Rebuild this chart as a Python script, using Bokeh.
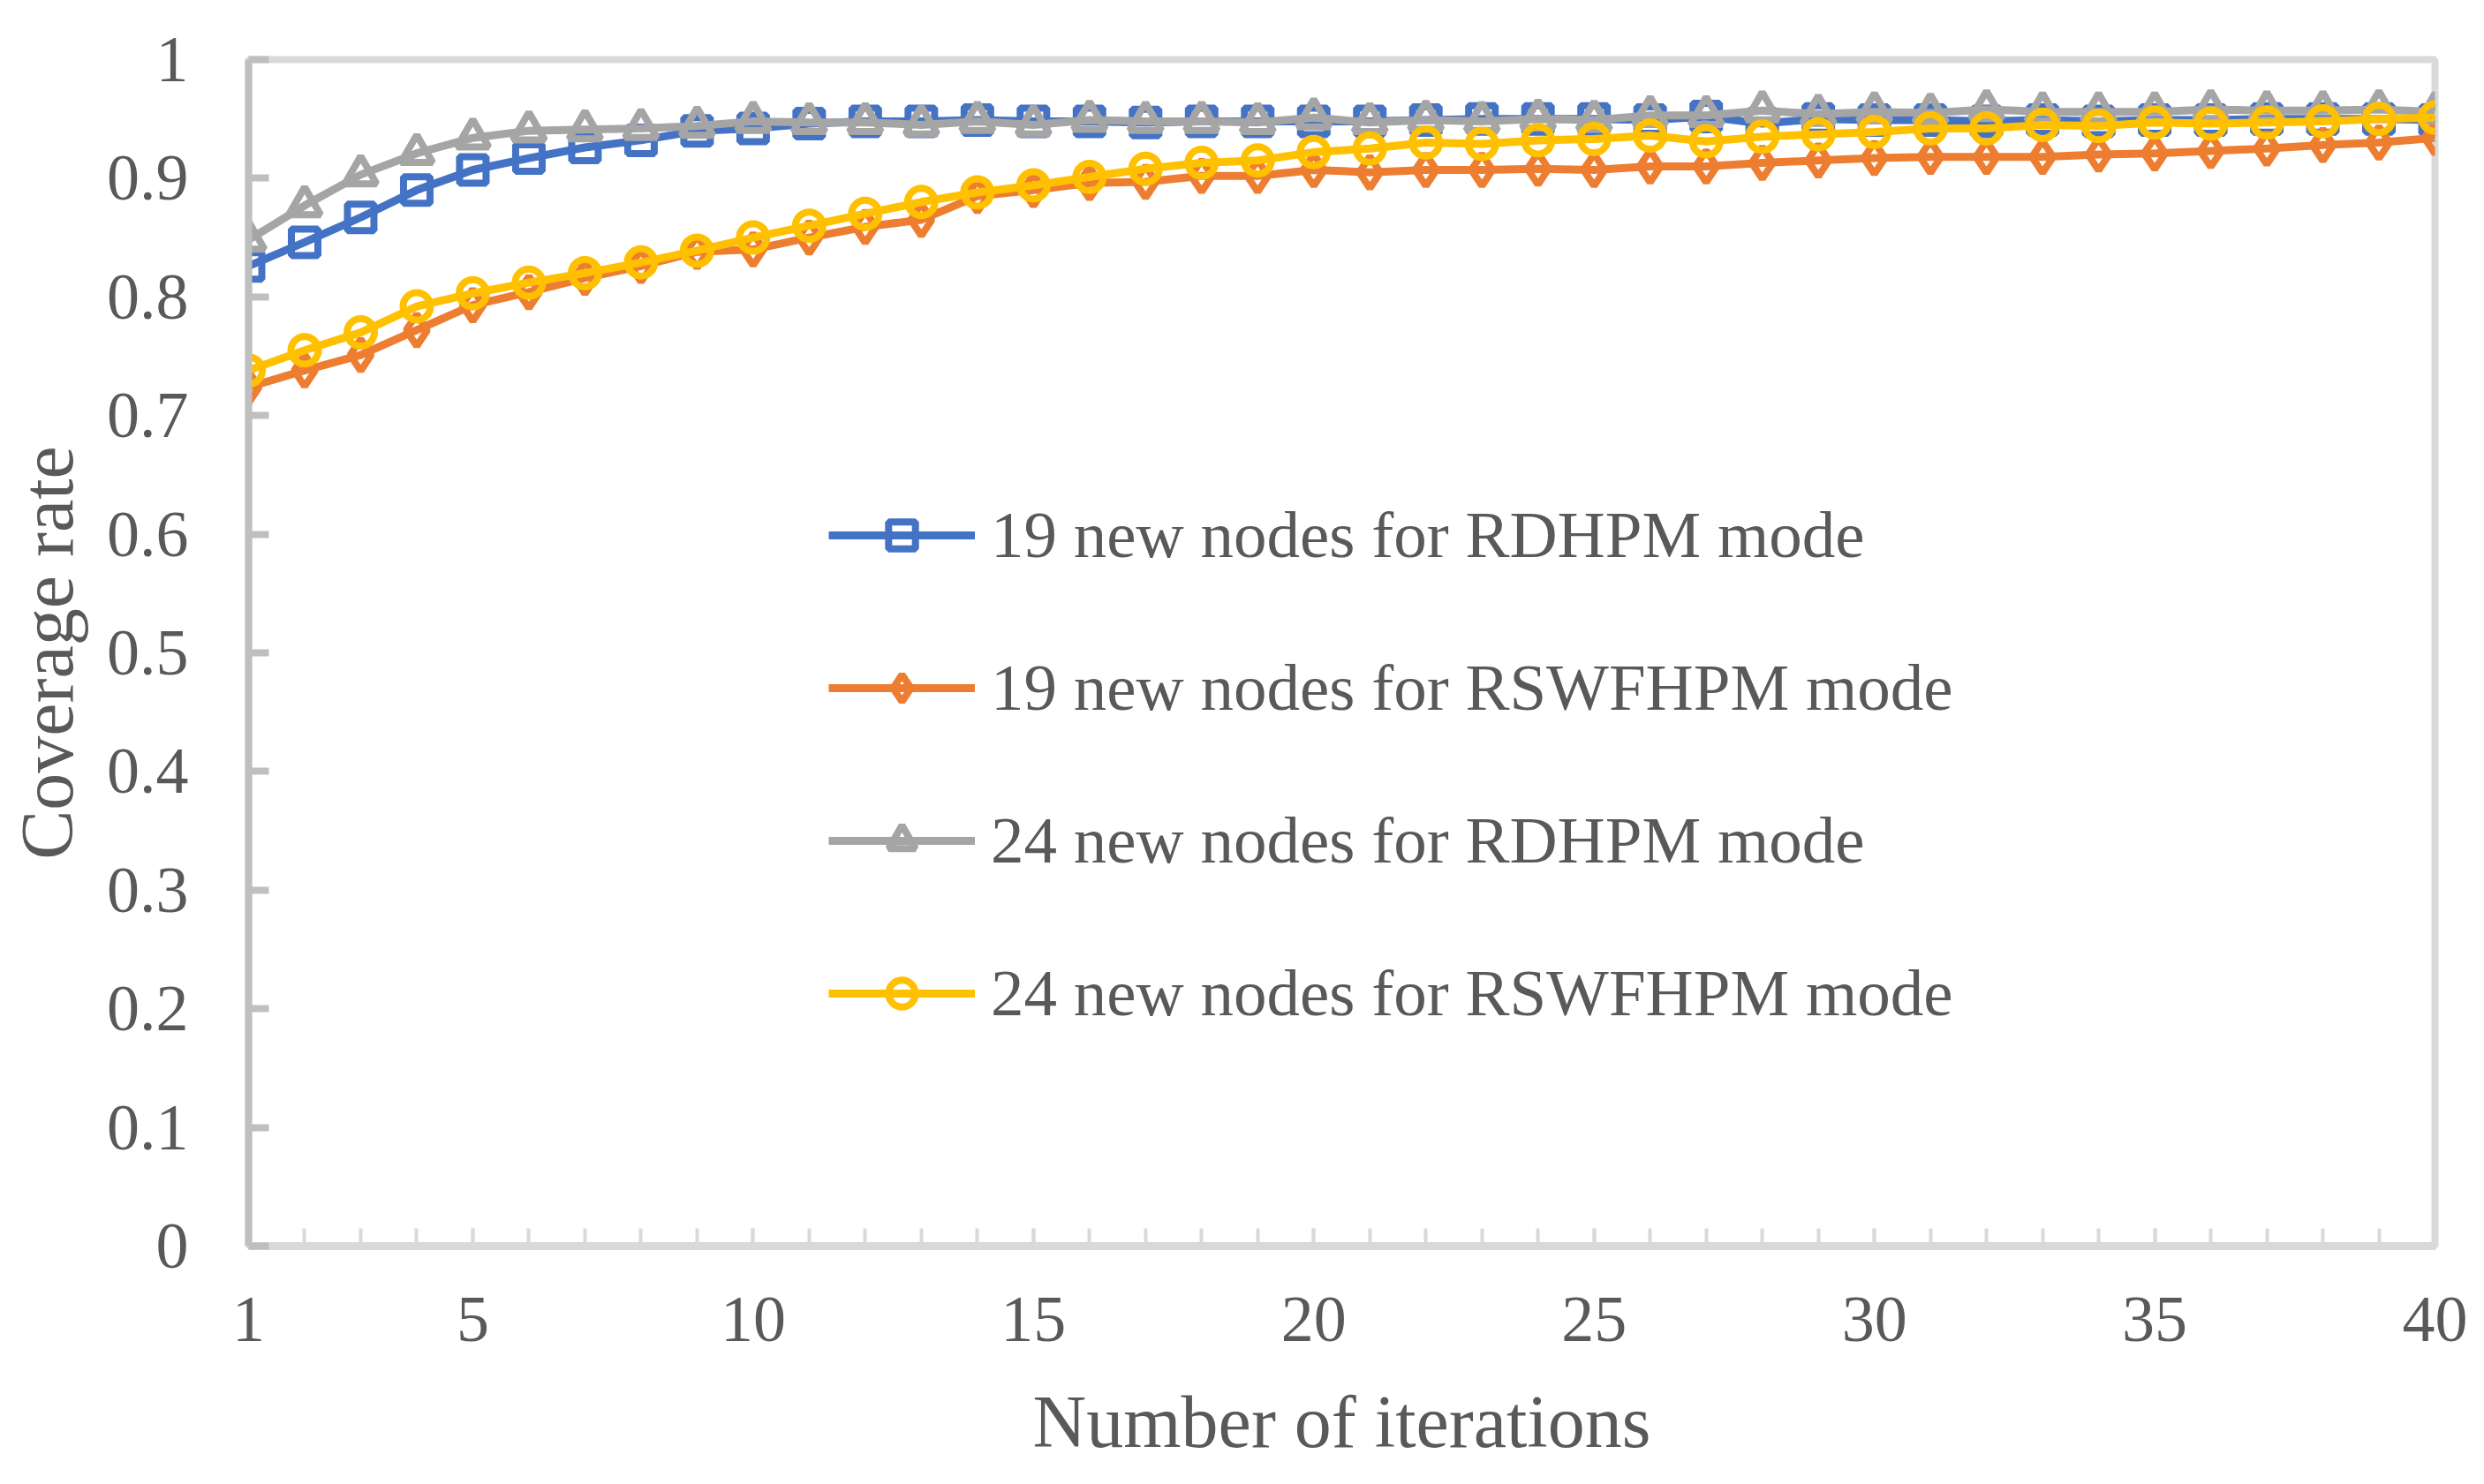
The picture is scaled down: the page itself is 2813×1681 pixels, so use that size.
from bokeh.plotting import figure
from bokeh.models import (Range1d, FixedTicker, CustomJSTickFormatter, Legend, LegendItem)
from bokeh.embed import file_html
from bokeh.resources import INLINE

iterations = list(range(1, 41))

rdhpm_19 = [0.826, 0.846, 0.867, 0.890, 0.907, 0.917, 0.926, 0.932, 0.940, 0.942,
            0.946, 0.948, 0.948, 0.949, 0.948, 0.948, 0.947, 0.948, 0.948, 0.948,
            0.948, 0.949, 0.950, 0.950, 0.950, 0.949, 0.952, 0.946, 0.950, 0.949,
            0.949, 0.948, 0.949, 0.948, 0.949, 0.949, 0.950, 0.950, 0.950, 0.949]

rswfhpm_19 = [0.724, 0.738, 0.751, 0.772, 0.793, 0.804, 0.816, 0.826, 0.838, 0.840,
              0.850, 0.859, 0.865, 0.885, 0.890, 0.896, 0.897, 0.902, 0.902, 0.907,
              0.905, 0.907, 0.907, 0.908, 0.907, 0.910, 0.910, 0.913, 0.915, 0.917,
              0.918, 0.918, 0.918, 0.920, 0.921, 0.923, 0.925, 0.928, 0.930, 0.934]

rdhpm_24 = [0.848, 0.877, 0.903, 0.921, 0.934, 0.940, 0.941, 0.942, 0.944, 0.948,
            0.947, 0.947, 0.945, 0.948, 0.945, 0.949, 0.948, 0.948, 0.947, 0.951,
            0.947, 0.949, 0.948, 0.950, 0.949, 0.953, 0.953, 0.957, 0.954, 0.956,
            0.955, 0.958, 0.956, 0.956, 0.956, 0.958, 0.957, 0.957, 0.958, 0.956]

rswfhpm_24 = [0.738, 0.755, 0.770, 0.792, 0.803, 0.812, 0.820, 0.829, 0.839, 0.850,
              0.860, 0.870, 0.880, 0.888, 0.894, 0.901, 0.908, 0.913, 0.915, 0.922,
              0.925, 0.930, 0.929, 0.932, 0.933, 0.936, 0.931, 0.935, 0.937, 0.939,
              0.942, 0.942, 0.945, 0.944, 0.947, 0.946, 0.947, 0.948, 0.950, 0.951]

series_labels = ["19 new nodes for RDHPM mode",
                 "19 new nodes for RSWFHPM mode",
                 "24 new nodes for RDHPM mode",
                 "24 new nodes for RSWFHPM mode"]

x_tick_labels = [1, 5, 10, 15, 20, 25, 30, 35, 40]
y_ticks = [0, 0.1, 0.2, 0.3, 0.4, 0.5, 0.6, 0.7, 0.8, 0.9, 1]

FONT = "Liberation Serif"
TXT = "#595959"

p = figure(width=2797, height=1665, x_range=Range1d(1, 40), y_range=Range1d(0, 1),
           output_backend="svg", toolbar_location=None,
           min_border_left=281, min_border_right=40, min_border_top=67, min_border_bottom=254)

p.xgrid.visible = False
p.ygrid.visible = False
p.background_fill_color = "white"
p.border_fill_color = "white"
p.outline_line_color = "#d9d9d9"
p.outline_line_width = 8

# x axis
xa = p.xaxis[0]
xa.ticker = FixedTicker(ticks=x_tick_labels, minor_ticks=iterations)
xa.axis_line_color = "#d9d9d9"
xa.axis_line_width = 9
xa.major_tick_in = 20
xa.major_tick_out = 0
xa.minor_tick_in = 20
xa.minor_tick_out = 0
xa.major_tick_line_color = "#d9d9d9"
xa.minor_tick_line_color = "#d9d9d9"
xa.major_tick_line_width = 4
xa.minor_tick_line_width = 4
xa.major_label_text_font = FONT
xa.major_label_text_font_size = "74px"
xa.major_label_text_color = TXT
xa.major_label_standoff = 58
xa.axis_label = "Number of iterations"
xa.axis_label_text_font = FONT
xa.axis_label_text_font_size = "84px"
xa.axis_label_text_font_style = "normal"
xa.axis_label_text_color = TXT
xa.axis_label_standoff = 42

# y axis
ya = p.yaxis[0]
ya.ticker = FixedTicker(ticks=y_ticks, minor_ticks=[])
ya.formatter = CustomJSTickFormatter(code="return (Math.round(tick*10)/10).toString();")
ya.axis_line_color = "#bfbfbf"
ya.axis_line_width = 8
ya.major_tick_in = 23
ya.major_tick_out = 0
ya.minor_tick_in = 0
ya.minor_tick_out = 0
ya.major_tick_line_color = "#bfbfbf"
ya.major_tick_line_width = 8
ya.major_label_text_font = FONT
ya.major_label_text_font_size = "74px"
ya.major_label_text_color = TXT
ya.major_label_standoff = 68
ya.axis_label = "Coverage rate"
ya.axis_label_text_font = FONT
ya.axis_label_text_font_size = "84px"
ya.axis_label_text_font_style = "normal"
ya.axis_label_text_color = TXT
ya.axis_label_standoff = 18

colors = ["#4472C4", "#ED7D31", "#A5A5A5", "#FFC000"]
data = [rdhpm_19, rswfhpm_19, rdhpm_24, rswfhpm_24]
markers = [("square", 30), ("diamond", 36), ("triangle", 36), ("circle", 31)]

items = []
for vals, col, (mk, sz), lab in zip(data, colors, markers, series_labels):
    lr = p.line(iterations, vals, line_color=col, line_width=9)
    sr = p.scatter(iterations, vals, marker=mk, size=sz,
                   line_color=col, line_width=8, fill_color=None)
    items.append(LegendItem(label=lab, renderers=[lr, sr]))

legend = Legend(items=items, location=(657, 243), orientation="vertical",
                glyph_width=166, glyph_height=76, label_height=65,
                spacing=87, label_standoff=18, padding=0, margin=0,
                border_line_color=None, background_fill_alpha=0,
                label_text_font=FONT, label_text_font_size="75px",
                label_text_color=TXT)
p.add_layout(legend)

open("out.html", "w").write(file_html(p, INLINE))
